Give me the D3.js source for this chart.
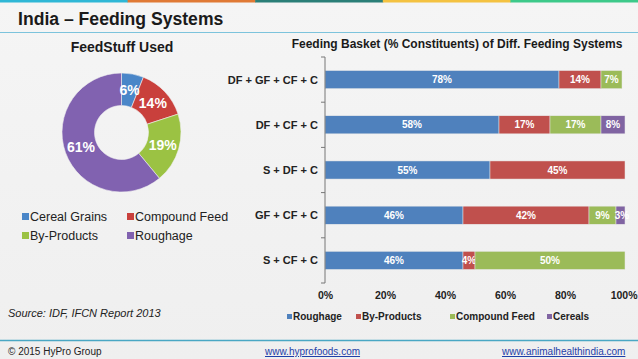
<!DOCTYPE html>
<html><head><meta charset="utf-8">
<script src="https://cdn.jsdelivr.net/npm/d3@7"></script>
<style>
html,body{margin:0;padding:0;background:#f3f3f3;}
svg{display:block;font-family:"Liberation Sans",Arial,sans-serif;}
</style></head>
<body><svg id="c" width="638" height="359"></svg>
<script>
// ---- data ----
const pieCategories = ["Cereal Grains","Compound Feed","By-Products","Roughage"];
const pieValues = [6,14,19,61];
const pieColors = ["#4a86c8","#c9403c","#9bc243","#8162b0"];

const systems = ["DF + GF + CF + C","DF + CF + C","S + DF + C","GF + CF + C","S + CF + C"];
const seriesNames = ["Roughage","By-Products","Compound Feed","Cereals"];
const roughage = [78,58,55,46,46];
const byProducts = [14,17,45,42,4];
const compoundFeed = [7,17,0,9,50];
const cereals = [0,8,0,3,0];
const barColors = ["#4f81bd","#c0504d","#9bbb59","#8064a2"];
const xTicks = [0,20,40,60,80,100];
const stripeColors = ["#2fb7d6","#e07a35","#2b7f78","#f4c241","#3dc98a"];

const svg = d3.select("#c");
// background
const grad = svg.append("defs").append("linearGradient").attr("id","bg").attr("x1",0).attr("y1",0).attr("x2",0).attr("y2",1);
grad.append("stop").attr("offset","0%").attr("stop-color","#f5f5f5");
grad.append("stop").attr("offset","100%").attr("stop-color","#efefef");
svg.append("rect").attr("width",638).attr("height",359).attr("fill","url(#bg)");

// top stripe
const sx = d3.scaleBand().domain(d3.range(stripeColors.length)).range([0,638]);
svg.selectAll("rect.stripe").data(stripeColors).join("rect").attr("class","stripe")
  .attr("x",(d,i)=>sx(i)).attr("y",0).attr("width",sx.bandwidth()+0.5).attr("height",2.5).attr("fill",d=>d);

// title
svg.append("text").attr("x",18).attr("y",25).attr("font-size",17.6).attr("font-weight","bold").attr("fill","#1a1a1a").text("India – Feeding Systems");
svg.append("line").attr("x1",0).attr("x2",638).attr("y1",32.5).attr("y2",32.5).attr("stroke","#7cc3dc").attr("stroke-width",1.2);

// ---- donut ----
svg.append("text").attr("x",122).attr("y",52).attr("text-anchor","middle").attr("font-size",14).attr("font-weight","bold").attr("fill","#1a1a1a").text("FeedStuff Used");
const pieG = svg.append("g").attr("transform","translate(121.5,132.5)");
const pie = d3.pie().sort(null).value(d=>d)(pieValues);
const arc = d3.arc().innerRadius(27).outerRadius(59.5);
const labelArc = d3.arc().innerRadius(43).outerRadius(43);
pieG.selectAll("path").data(pie).join("path").attr("d",arc).attr("fill",(d,i)=>pieColors[i]).attr("stroke","#f0f0f0").attr("stroke-width",0.6);
pieG.selectAll("text").data(pie).join("text")
  .attr("transform",d=>{const c=labelArc.centroid(d);return `translate(${c[0]},${c[1]})`;})
  .attr("text-anchor","middle").attr("dy","0.36em").attr("font-size",14).attr("font-weight","bold").attr("fill","#fff")
  .text(d=>d.value+"%");
// donut legend
const legPos = [[22,221],[127,221],[22,240],[127,240]];
pieCategories.forEach((c,i)=>{
  svg.append("rect").attr("x",legPos[i][0]).attr("y",legPos[i][1]-8).attr("width",7).attr("height",7).attr("fill",pieColors[i]);
  svg.append("text").attr("x",legPos[i][0]+8).attr("y",legPos[i][1]).attr("font-size",12.5).attr("fill","#222").text(c);
});

svg.append("text").attr("x",8).attr("y",317).attr("font-size",11).attr("font-style","italic").attr("fill","#222").text("Source: IDF, IFCN Report 2013");

// ---- stacked bars ----
svg.append("text").attr("x",457).attr("y",48).attr("text-anchor","middle").attr("font-size",12).attr("font-weight","bold").attr("fill","#1a1a1a").text("Feeding Basket (% Constituents) of Diff. Feeding Systems");
const x = d3.scaleLinear().domain([0,100]).range([325,625]);
const y = d3.scaleBand().domain(systems).range([57,283]).paddingInner(0.6).paddingOuter(0.3);
const rows = systems.map((s,i)=>({system:s,Roughage:roughage[i],"By-Products":byProducts[i],"Compound Feed":compoundFeed[i],Cereals:cereals[i]}));
const stack = d3.stack().keys(seriesNames)(rows);
const gBars = svg.append("g");
stack.forEach((layer,k)=>{
  const g = gBars.append("g");
  g.selectAll("rect").data(layer).join("rect")
    .attr("x",d=>x(d[0])).attr("y",d=>y(d.data.system)).attr("width",d=>x(d[1])-x(d[0])).attr("height",y.bandwidth())
    .attr("fill",barColors[k]).attr("stroke","#e8e8e8").attr("stroke-width",0.5);
  g.selectAll("text").data(layer.filter(d=>d[1]-d[0]>0)).join("text")
    .attr("x",d=>(x(d[0])+x(d[1]))/2+((d[1]-d[0])<4?1.5:0)).attr("y",d=>y(d.data.system)+y.bandwidth()/2).attr("dy","0.36em")
    .attr("text-anchor","middle").attr("font-size",10).attr("font-weight","bold").attr("fill","#fff")
    .text(d=>(d[1]-d[0])+"%");
});
// y axis
const yAxisG = svg.append("g").attr("transform","translate(325,0)");
yAxisG.append("line").attr("x1",0).attr("x2",0).attr("y1",57).attr("y2",283).attr("stroke","#777");
const bounds = d3.range(systems.length+1).map(i=>57+i*(226/systems.length));
yAxisG.selectAll("line.t").data(bounds).join("line").attr("class","t").attr("x1",-4).attr("x2",0).attr("y1",d=>d).attr("y2",d=>d).attr("stroke","#777");
svg.append("g").selectAll("text").data(systems).join("text")
  .attr("x",318).attr("y",d=>y(d)+y.bandwidth()/2).attr("dy","0.36em").attr("text-anchor","end")
  .attr("font-size",11).attr("font-weight","bold").attr("fill","#222").text(d=>d);
// x axis
const xAxis = d3.axisBottom(x).tickValues(xTicks).tickFormat(d=>d+"%").tickSize(0).tickPadding(9);
const xg = svg.append("g").attr("transform","translate(0,283)").call(xAxis);
xg.select(".domain").remove();
xg.selectAll("text").attr("font-size",10.5).attr("font-weight","bold").attr("fill","#222").attr("font-family","Liberation Sans, Arial, sans-serif");
xg.selectAll(".tick").filter(d=>d===100).select("text").attr("text-anchor","end").attr("x",12);
// bar legend
const legX = [287,356,450,547];
seriesNames.forEach((s,i)=>{
  svg.append("rect").attr("x",legX[i]).attr("y",314).attr("width",5).attr("height",5).attr("fill",barColors[i]);
  svg.append("text").attr("x",legX[i]+6).attr("y",320).attr("font-size",10).attr("font-weight","bold").attr("fill","#222").text(s);
});

// footer
svg.append("line").attr("x1",0).attr("x2",638).attr("y1",340.5).attr("y2",340.5).attr("stroke","#4aa7c4").attr("stroke-width",1.3);
svg.append("text").attr("x",8).attr("y",355).attr("font-size",10).attr("fill","#222").text("© 2015 HyPro Group");
svg.append("text").attr("x",265).attr("y",355).attr("font-size",10).attr("fill","#1f3fa8").attr("text-decoration","underline").text("www.hyprofoods.com");
svg.append("text").attr("x",502).attr("y",355).attr("font-size",10).attr("fill","#1f3fa8").attr("text-decoration","underline").text("www.animalhealthindia.com");
</script></body></html>
